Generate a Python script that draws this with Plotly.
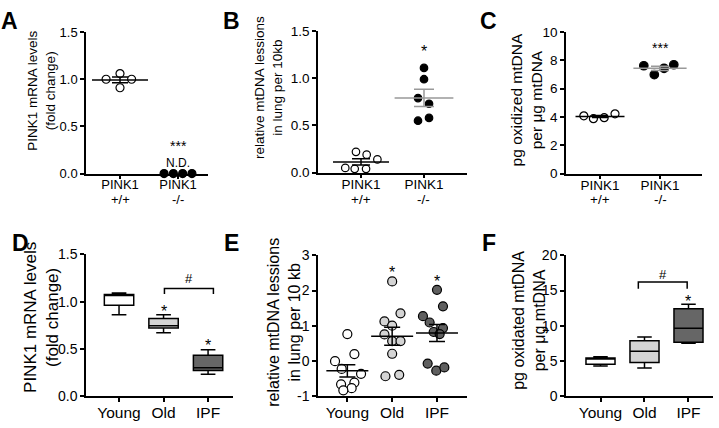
import numpy as np
import plotly.graph_objects as go

W, H = 719, 428
FONT = "Liberation Sans, Arial, sans-serif"

# ---------------- data ----------------
gene_label = "PINK1"
genotypes = ["+/+", "-/-"]
age_labels = ["Young", "Old", "IPF"]

# A: PINK1 mRNA (fold change)
a_wt = [1.00, 1.06, 1.00, 0.91]
a_ko = [0.0, 0.0, 0.0, 0.0]
# B: relative mtDNA lesions per 10kb
b_wt = [0.22, 0.19, 0.14, 0.05, 0.04, 0.04]
b_ko = [1.11, 0.99, 0.79, 0.73, 0.55, 0.58]
# C: pg oxidized mtDNA per ug mtDNA
c_wt = [4.08, 3.88, 3.95, 4.22]
c_ko = [7.62, 6.99, 7.44, 7.69]
# D: PINK1 mRNA box plots (min, q1, median, q3, max)
d_min = [0.86, 0.67, 0.23]
d_q1 = [0.96, 0.72, 0.27]
d_med = [1.065, 0.745, 0.30]
d_q3 = [1.075, 0.82, 0.43]
d_max = [1.09, 0.86, 0.49]
# E: relative mtDNA lesions per 10 kb
e_young = [0.76, 0.19, -0.01, -0.23, -0.37, -0.62, -0.67, -0.78, -0.84]
e_old = [2.26, 1.35, 1.12, 1.00, 0.75, 0.56, 0.56, 0.20, -0.44, -0.40]
e_ipf = [2.02, 1.55, 1.27, 1.09, 0.93, 0.82, 0.76, -0.08, -0.28, -0.19]
# F: pg oxidated mtDNA box plots
f_min = [4.25, 3.97, 7.49]
f_q1 = [4.52, 4.75, 7.63]
f_med = [5.35, 6.35, 9.63]
f_q3 = [5.40, 7.85, 12.40]
f_max = [5.57, 8.40, 13.05]

# ---------------- layout helpers (positions / jitter) ----------------
jit_a_wt = [-0.24, 0.0, 0.20, 0.0]
jit_a_ko = [-0.24, -0.08, 0.08, 0.24]
jit_b_wt = [-0.08, 0.09, 0.26, -0.25, -0.10, 0.08]
jit_b_ko = [0.0, 0.0, -0.095, 0.08, -0.095, 0.08]
jit_c_wt = [-0.27, -0.11, 0.07, 0.25]
jit_c_ko = [-0.27, -0.095, 0.067, 0.23]
jit_e_young = [0.0, 0.157, -0.275, -0.127, 0.306, 0.157, -0.14, 0.096, -0.09]
jit_e_old = [0.0, 0.186, -0.172, 0.0, -0.172, 0.0, 0.186, 0.0, -0.15, 0.157]
jit_e_ipf = [0.0, 0.134, -0.313, -0.164, 0.134, -0.074, 0.06, -0.208, -0.016, 0.164]


def px_dom_x(a, b):
    return [a / W, b / W]


def px_dom_y(top, bottom):
    return [1 - bottom / H, 1 - top / H]


fig = go.Figure()

LW = 1.5


def points(xa, ya, cat, vals, jit, fill, size, lw=1.2):
    x = cat + np.array(jit)
    fig.add_trace(go.Scatter(
        x=x, y=vals, mode="markers", xaxis=xa, yaxis=ya, cliponaxis=False,
        marker=dict(symbol="circle", size=size, color=fill,
                    line=dict(color="black", width=lw)),
        showlegend=False, hoverinfo="skip"))


def mean_sem(xa, ya, cat, vals, color, mean_px, cap_px):
    v = np.array(vals, dtype=float)
    m = v.mean()
    s = v.std(ddof=1) / np.sqrt(len(v))
    fig.add_trace(go.Scatter(
        x=[cat], y=[m], mode="markers", xaxis=xa, yaxis=ya, cliponaxis=False,
        marker=dict(symbol="line-ew", size=mean_px, color=color,
                    line=dict(color=color, width=LW)),
        error_y=dict(type="data", array=[s], visible=True, color=color,
                     thickness=LW, width=cap_px),
        showlegend=False, hoverinfo="skip"))


def boxes(xa, ya, mins, q1, med, q3, maxs, fills):
    for i in range(len(med)):
        fig.add_trace(go.Box(
            x=[i], lowerfence=[mins[i]], q1=[q1[i]], median=[med[i]],
            q3=[q3[i]], upperfence=[maxs[i]], width=0.66, whiskerwidth=0.5,
            fillcolor=fills[i], line=dict(color="black", width=LW),
            xaxis=xa, yaxis=ya, showlegend=False, hoverinfo="skip",
            boxpoints=False))


def bracket(xa, ya, x0, x1, ylo, yhi):
    fig.add_trace(go.Scatter(
        x=[x0, x0, x1, x1], y=[ylo, yhi, yhi, ylo], mode="lines",
        xaxis=xa, yaxis=ya, line=dict(color="black", width=LW),
        showlegend=False, hoverinfo="skip", cliponaxis=False))


GRAY = "#999999"
LIGHT = "#d4d4d4"
DARK = "#666666"

# A
points("x", "y", 0, a_wt, jit_a_wt, "white", 8)
points("x", "y", 1, a_ko, jit_a_ko, "black", 8)
mean_sem("x", "y", 0, a_wt, "black", 40, 8)
# B
points("x2", "y2", 0, b_wt, jit_b_wt, "white", 7.5)
points("x2", "y2", 1, b_ko, jit_b_ko, "black", 7.5)
mean_sem("x2", "y2", 0, b_wt, "black", 40, 9)
mean_sem("x2", "y2", 1, b_ko, GRAY, 42, 10)
# C
points("x3", "y3", 0, c_wt, jit_c_wt, "white", 8)
points("x3", "y3", 1, c_ko, jit_c_ko, "black", 8.5)
mean_sem("x3", "y3", 0, c_wt, "black", 35, 8)
mean_sem("x3", "y3", 1, c_ko, GRAY, 38, 9)
# D
boxes("x4", "y4", d_min, d_q1, d_med, d_q3, d_max, ["white", LIGHT, DARK])
bracket("x4", "y4", 1.02, 2.12, 1.08, 1.14)
# E
points("x5", "y5", 0, e_young, jit_e_young, "white", 9)
points("x5", "y5", 1, e_old, jit_e_old, LIGHT, 9)
points("x5", "y5", 2, e_ipf, jit_e_ipf, "#5f5f5f", 9)
mean_sem("x5", "y5", 0, e_young, "black", 30, 8)
mean_sem("x5", "y5", 1, e_old, "black", 30, 8)
mean_sem("x5", "y5", 2, e_ipf, "black", 30, 8)
# F
boxes("x6", "y6", f_min, f_q1, f_med, f_q3, f_max, ["white", LIGHT, DARK])
bracket("x6", "y6", 0.86, 1.97, 15.25, 16.2)


def xaxis(dom, rng, labels, anchor, fs, standoff):
    return dict(domain=dom, range=rng, anchor=anchor,
                tickmode="array", tickvals=list(range(len(labels))), ticktext=labels,
                showline=True, linecolor="black", linewidth=LW,
                ticks="outside", ticklen=4, tickwidth=LW, tickcolor="black",
                showgrid=False, zeroline=False, ticklabelstandoff=standoff,
                tickfont=dict(family=FONT, size=fs, color="black"))


def yaxis(dom, rng, vals, fmt, anchor, fs):
    return dict(domain=dom, range=rng, anchor=anchor,
                tickmode="array", tickvals=vals, ticktext=[fmt.format(v) for v in vals],
                showline=True, linecolor="black", linewidth=LW,
                ticks="outside", ticklen=4, tickwidth=LW, tickcolor="black",
                showgrid=False, zeroline=False,
                tickfont=dict(family=FONT, size=fs, color="black"))


top_labels = [gene_label] * len(genotypes)

layout = dict(
    width=W, height=H, margin=dict(l=0, r=0, t=0, b=0),
    paper_bgcolor="white", plot_bgcolor="white",
    font=dict(family=FONT, color="black"),
    showlegend=False,
    xaxis=xaxis(px_dom_x(86, 208), [-0.586, 1.517], top_labels, "y", 13, -6),
    yaxis=yaxis(px_dom_y(25, 172), [0, 1.5], [0, 0.5, 1.0, 1.5], "{:.1f}", "x", 13),
    xaxis2=xaxis(px_dom_x(318, 467), [-0.683, 1.683], top_labels, "y2", 13.5, -6),
    yaxis2=yaxis(px_dom_y(24, 171), [0, 1.5], [0, 0.5, 1.0, 1.5], "{:.1f}", "x2", 13.5),
    xaxis3=xaxis(px_dom_x(566, 702), [-0.567, 1.7], top_labels, "y3", 13.5, -6),
    yaxis3=yaxis(px_dom_y(25, 172), [0, 10], [0, 2, 4, 6, 8, 10], "{:d}", "x3", 13.5),
    xaxis4=xaxis(px_dom_x(86, 233), [-0.742, 2.56], age_labels, "y4", 15.5, -2),
    yaxis4=yaxis(px_dom_y(256, 403), [0, 1.5], [0, 0.5, 1.0, 1.5], "{:.1f}", "x4", 14),
    xaxis5=xaxis(px_dom_x(318, 467), [-0.655, 2.67], age_labels, "y5", 15.5, -2),
    yaxis5=yaxis(px_dom_y(257, 403), [-1, 3], [-1, 0, 1, 2, 3], "{:d}", "x5", 14),
    xaxis6=xaxis(px_dom_x(566, 713), [-0.784, 2.557], age_labels, "y6", 15.5, -2),
    yaxis6=yaxis(px_dom_y(257, 403), [0, 20], [0, 5, 10, 15, 20], "{:d}", "x6", 14),
)
fig.update_layout(**layout)

ann = []


def ytitle(text, cx, cy, fs):
    ann.append(dict(text=text, x=cx / W, y=1 - cy / H, xref="paper", yref="paper",
                    textangle=-90, showarrow=False, xanchor="center", yanchor="middle",
                    font=dict(family=FONT, size=fs, color="black")))


def letter(text, cx, cy):
    ann.append(dict(text="<b>%s</b>" % text, x=cx / W, y=1 - cy / H, xref="paper", yref="paper",
                    showarrow=False, xanchor="center", yanchor="middle",
                    font=dict(family=FONT, size=23, color="black")))


def mark(text, xr, yr, x, y, fs=14):
    ann.append(dict(text=text, x=x, y=y, xref=xr, yref=yr, showarrow=False,
                    xanchor="center", yanchor="middle",
                    font=dict(family=FONT, size=fs, color="black")))


def second_line(xr, fs):
    for i, g in enumerate(genotypes):
        ann.append(dict(text=g, x=i, y=1 - 199 / H, xref=xr, yref="paper", showarrow=False,
                        xanchor="center", yanchor="middle",
                        font=dict(family=FONT, size=fs, color="black")))


second_line("x", 13)
second_line("x2", 13.5)
second_line("x3", 13.5)

ytitle("PINK1 mRNA levels<br>(fold change)", 42, 86, 13.5)
ytitle("relative mtDNA lessions<br>in lung per 10kb", 269, 83, 13.5)
ytitle("pg oxidized mtDNA<br>per μg mtDNA", 526, 96, 15.5)
ytitle("PINK1 mRNA levels<br>(fold change)", 42, 322, 17)
ytitle("relative mtDNA lessions<br>in lung per 10 kb", 284, 327, 16)
ytitle("pg oxidated mtDNA<br>per μg mtDNA", 529, 325, 16)

letter("A", 9, 13)
letter("B", 231, 13)
letter("C", 489, 13)
letter("D", 20, 244)
letter("E", 231, 244)
letter("F", 489, 244)

mark("***", "x", "y", 1, 0.29, 14)
mark("N.D.", "x", "y", 1, 0.11, 12)
mark("*", "x2", "y2", 1, 1.28, 16)
mark("***", "x3", "y3", 1, 8.9, 14)
mark("#", "x4", "y4", 1.57, 1.24, 13)
mark("*", "x4", "y4", 1, 0.9, 16)
mark("*", "x4", "y4", 2, 0.53, 16)
mark("*", "x5", "y5", 1, 2.5, 16)
mark("*", "x5", "y5", 2, 2.25, 16)
mark("#", "x6", "y6", 1.42, 17.3, 13)
mark("*", "x6", "y6", 2, 13.4, 16)

fig.update_layout(annotations=ann)
fig.write_html("out.html", config={"displayModeBar": False},
               post_script="document.body.style.margin='0';document.body.style.padding='0';")
